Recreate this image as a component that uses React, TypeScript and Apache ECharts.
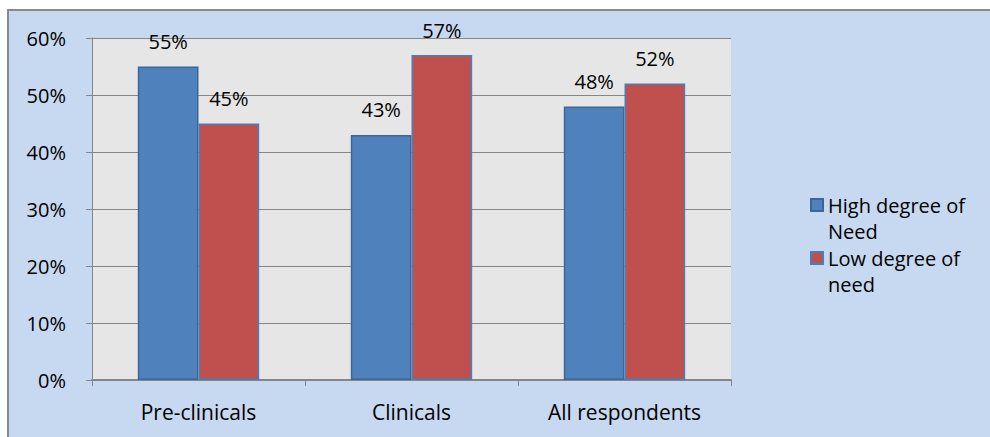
import React, { useEffect, useRef } from "react";
import * as echarts from "echarts";

const categories = ["Pre-clinicals", "Clinicals", "All respondents"];
const highNeed = [55, 43, 48];
const lowNeed = [45, 57, 52];
const seriesNames = ["High degree of Need", "Low degree of need"];
const legendLabels: Record<string, string> = {
  "High degree of Need": "High degree of\nNeed",
  "Low degree of need": "Low degree of\nneed",
};

const FONT = "'Open Sans', sans-serif";

export default function App() {
  const ref = useRef<HTMLDivElement>(null);
  useEffect(() => {
    if (!ref.current) return;
    const chart = echarts.init(ref.current, undefined, { renderer: "svg" });
    const labelStyle = {
      show: true,
      position: "top" as const,
      distance: 15,
      formatter: "{c}%",
      color: "#000",
      fontSize: 20,
      fontFamily: FONT,
    };
    chart.setOption({
      animation: false,
      textStyle: { fontFamily: FONT },
      grid: {
        left: 92,
        right: 259,
        top: 38,
        bottom: 57,
        show: true,
        backgroundColor: "#E6E6E6",
        borderWidth: 0,
      },
      legend: {
        orient: "vertical",
        left: 805,
        top: 187,
        itemWidth: 12,
        itemHeight: 38,
        itemGap: 1,
        icon: "path://M0,0H12V12H0Z M0,38",
        formatter: (name: string) => legendLabels[name] || name,
        textStyle: { fontSize: 20, lineHeight: 26, color: "#000", fontFamily: FONT },
        data: seriesNames,
      },
      xAxis: {
        type: "category",
        data: categories,
        axisLine: { lineStyle: { color: "#868686", width: 2 } },
        axisTick: { show: true, length: 6, lineStyle: { color: "#868686", width: 1 } },
        axisLabel: { color: "#000", fontSize: 21, fontFamily: FONT, margin: 21 },
        splitLine: { show: false },
      },
      yAxis: {
        type: "value",
        min: 0,
        max: 60,
        interval: 10,
        axisLine: { show: true, lineStyle: { color: "#868686", width: 1 } },
        axisTick: { show: true, length: 6, lineStyle: { color: "#868686" } },
        axisLabel: { formatter: "{value}%", color: "#000", fontSize: 20, fontFamily: FONT, margin: 26 },
        splitLine: { show: true, lineStyle: { color: "#868686", width: 1 } },
      },
      series: [
        {
          name: seriesNames[0],
          type: "bar",
          data: highNeed,
          barGap: "0%",
          barCategoryGap: "43%",
          itemStyle: { color: "#4F81BD", borderColor: "#3C6696", borderWidth: 1.5 },
          label: labelStyle,
        },
        {
          name: seriesNames[1],
          type: "bar",
          data: lowNeed,
          barGap: "0%",
          barCategoryGap: "43%",
          itemStyle: { color: "#C0504D", borderColor: "#4A7EBB", borderWidth: 1.5 },
          label: labelStyle,
        },
      ],
    });
    return () => chart.dispose();
  }, []);
  return (
    <div
      style={{
        position: "fixed",
        left: 0,
        top: 0,
        width: 990,
        height: 437,
        overflow: "hidden",
        background: "#fff",
      }}
    >
      <div
        style={{
          position: "absolute",
          left: 7,
          top: 9,
          width: 983,
          height: 428,
          background: "#C6D9F1",
          borderTop: "2px solid #8A8A8A",
          borderLeft: "2px solid #8A8A8A",
          boxSizing: "border-box",
        }}
      />
      <div ref={ref} style={{ position: "absolute", left: 0, top: 0, width: 990, height: 437 }} />
    </div>
  );
}
